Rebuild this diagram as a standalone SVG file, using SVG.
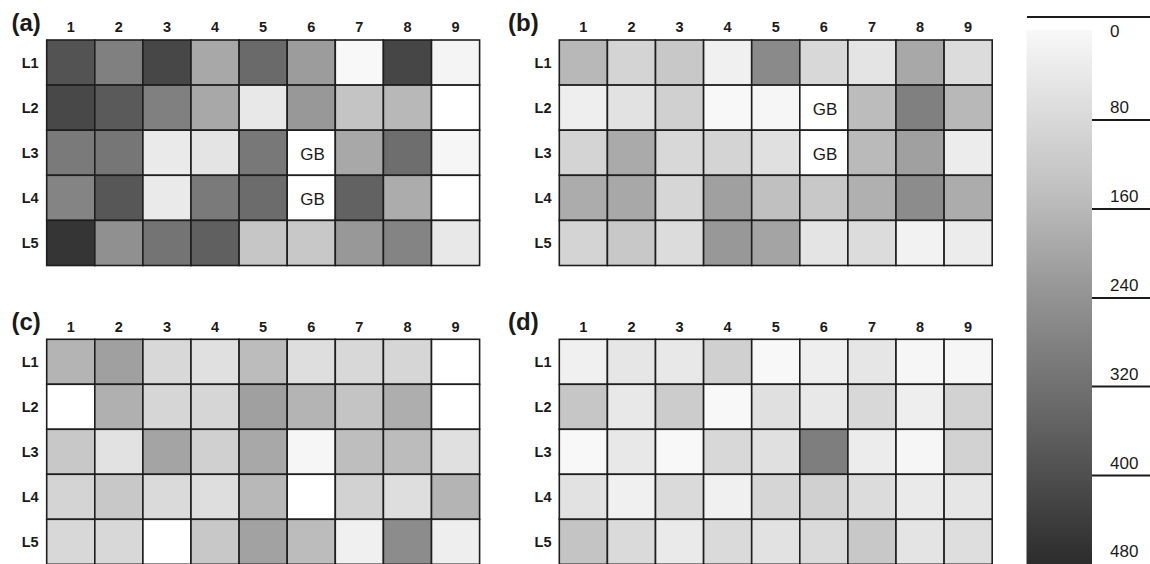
<svg xmlns="http://www.w3.org/2000/svg" width="1150" height="564" viewBox="0 0 1150 564">
<defs>
<linearGradient id="gbar" x1="0" y1="0" x2="0" y2="1">
<stop offset="0" stop-color="#f8f8f8"/>
<stop offset="0.3" stop-color="#c0c0c0"/>
<stop offset="0.5" stop-color="#939393"/>
<stop offset="0.75" stop-color="#606060"/>
<stop offset="1" stop-color="#2c2c2c"/>
</linearGradient>
<style>
rect.c{stroke:#1e1e1e;stroke-width:1.6}
text{font-family:"Liberation Sans",Arial,sans-serif;fill:#1a1a1a}
.col{font-size:14.5px;font-weight:bold;text-anchor:middle}
.row{font-size:14.5px;font-weight:bold;text-anchor:middle}
.let{font-size:24px;font-weight:bold}
.gb{font-size:17px;text-anchor:middle}
.tk{font-size:17px}
.ln{stroke:#1a1a1a;stroke-width:2}
</style>
</defs>
<rect width="1150" height="564" fill="#ffffff"/>

<g id="panel-a" transform="translate(46.7,40)">
<text class="let" x="-35.2" y="-9">(a)</text>
<g class="cols">
<text class="col" x="24.05" y="-7.7">1</text><text class="col" x="72.15" y="-7.7">2</text><text class="col" x="120.25" y="-7.7">3</text><text class="col" x="168.35" y="-7.7">4</text><text class="col" x="216.45" y="-7.7">5</text><text class="col" x="264.55" y="-7.7">6</text><text class="col" x="312.65" y="-7.7">7</text><text class="col" x="360.75" y="-7.7">8</text><text class="col" x="408.85" y="-7.7">9</text>
</g>
<text class="row" x="-16.5" y="28.05">L1</text><text class="row" x="-16.5" y="73.15">L2</text><text class="row" x="-16.5" y="118.25">L3</text><text class="row" x="-16.5" y="163.35">L4</text><text class="row" x="-16.5" y="208.45">L5</text>
<rect class="c" x="0" y="0" width="48.1" height="45.1" fill="#535353"/><rect class="c" x="48.1" y="0" width="48.1" height="45.1" fill="#808080"/><rect class="c" x="96.2" y="0" width="48.1" height="45.1" fill="#474747"/><rect class="c" x="144.3" y="0" width="48.1" height="45.1" fill="#a8a8a8"/><rect class="c" x="192.4" y="0" width="48.1" height="45.1" fill="#6a6a6a"/><rect class="c" x="240.5" y="0" width="48.1" height="45.1" fill="#9c9c9c"/><rect class="c" x="288.6" y="0" width="48.1" height="45.1" fill="#f8f8f8"/><rect class="c" x="336.7" y="0" width="48.1" height="45.1" fill="#464646"/><rect class="c" x="384.8" y="0" width="48.1" height="45.1" fill="#f4f4f4"/>
<rect class="c" x="0" y="45.1" width="48.1" height="45.1" fill="#484848"/><rect class="c" x="48.1" y="45.1" width="48.1" height="45.1" fill="#5a5a5a"/><rect class="c" x="96.2" y="45.1" width="48.1" height="45.1" fill="#808080"/><rect class="c" x="144.3" y="45.1" width="48.1" height="45.1" fill="#a8a8a8"/><rect class="c" x="192.4" y="45.1" width="48.1" height="45.1" fill="#e8e8e8"/><rect class="c" x="240.5" y="45.1" width="48.1" height="45.1" fill="#989898"/><rect class="c" x="288.6" y="45.1" width="48.1" height="45.1" fill="#c4c4c4"/><rect class="c" x="336.7" y="45.1" width="48.1" height="45.1" fill="#b8b8b8"/><rect class="c" x="384.8" y="45.1" width="48.1" height="45.1" fill="#ffffff"/>
<rect class="c" x="0" y="90.2" width="48.1" height="45.1" fill="#7a7a7a"/><rect class="c" x="48.1" y="90.2" width="48.1" height="45.1" fill="#767676"/><rect class="c" x="96.2" y="90.2" width="48.1" height="45.1" fill="#eaeaea"/><rect class="c" x="144.3" y="90.2" width="48.1" height="45.1" fill="#e4e4e4"/><rect class="c" x="192.4" y="90.2" width="48.1" height="45.1" fill="#787878"/><rect class="c" x="240.5" y="90.2" width="48.1" height="45.1" fill="#ffffff"/><rect class="c" x="288.6" y="90.2" width="48.1" height="45.1" fill="#a8a8a8"/><rect class="c" x="336.7" y="90.2" width="48.1" height="45.1" fill="#6e6e6e"/><rect class="c" x="384.8" y="90.2" width="48.1" height="45.1" fill="#f6f6f6"/>
<rect class="c" x="0" y="135.3" width="48.1" height="45.1" fill="#848484"/><rect class="c" x="48.1" y="135.3" width="48.1" height="45.1" fill="#575757"/><rect class="c" x="96.2" y="135.3" width="48.1" height="45.1" fill="#eaeaea"/><rect class="c" x="144.3" y="135.3" width="48.1" height="45.1" fill="#7a7a7a"/><rect class="c" x="192.4" y="135.3" width="48.1" height="45.1" fill="#6c6c6c"/><rect class="c" x="240.5" y="135.3" width="48.1" height="45.1" fill="#ffffff"/><rect class="c" x="288.6" y="135.3" width="48.1" height="45.1" fill="#626262"/><rect class="c" x="336.7" y="135.3" width="48.1" height="45.1" fill="#acacac"/><rect class="c" x="384.8" y="135.3" width="48.1" height="45.1" fill="#ffffff"/>
<rect class="c" x="0" y="180.4" width="48.1" height="45.1" fill="#353535"/><rect class="c" x="48.1" y="180.4" width="48.1" height="45.1" fill="#909090"/><rect class="c" x="96.2" y="180.4" width="48.1" height="45.1" fill="#747474"/><rect class="c" x="144.3" y="180.4" width="48.1" height="45.1" fill="#606060"/><rect class="c" x="192.4" y="180.4" width="48.1" height="45.1" fill="#c6c6c6"/><rect class="c" x="240.5" y="180.4" width="48.1" height="45.1" fill="#c8c8c8"/><rect class="c" x="288.6" y="180.4" width="48.1" height="45.1" fill="#989898"/><rect class="c" x="336.7" y="180.4" width="48.1" height="45.1" fill="#848484"/><rect class="c" x="384.8" y="180.4" width="48.1" height="45.1" fill="#e8e8e8"/>
<text class="gb" x="265.8" y="119.7">GB</text><text class="gb" x="265.8" y="164.8">GB</text>
</g>

<g id="panel-b" transform="translate(559.3,40)">
<text class="let" x="-51.3" y="-9">(b)</text>
<g class="cols">
<text class="col" x="24.05" y="-7.7">1</text><text class="col" x="72.15" y="-7.7">2</text><text class="col" x="120.25" y="-7.7">3</text><text class="col" x="168.35" y="-7.7">4</text><text class="col" x="216.45" y="-7.7">5</text><text class="col" x="264.55" y="-7.7">6</text><text class="col" x="312.65" y="-7.7">7</text><text class="col" x="360.75" y="-7.7">8</text><text class="col" x="408.85" y="-7.7">9</text>
</g>
<text class="row" x="-16.3" y="28.05">L1</text><text class="row" x="-16.3" y="73.15">L2</text><text class="row" x="-16.3" y="118.25">L3</text><text class="row" x="-16.3" y="163.35">L4</text><text class="row" x="-16.3" y="208.45">L5</text>
<rect class="c" x="0" y="0" width="48.1" height="45.1" fill="#b8b8b8"/><rect class="c" x="48.1" y="0" width="48.1" height="45.1" fill="#d4d4d4"/><rect class="c" x="96.2" y="0" width="48.1" height="45.1" fill="#c8c8c8"/><rect class="c" x="144.3" y="0" width="48.1" height="45.1" fill="#f0f0f0"/><rect class="c" x="192.4" y="0" width="48.1" height="45.1" fill="#8a8a8a"/><rect class="c" x="240.5" y="0" width="48.1" height="45.1" fill="#d8d8d8"/><rect class="c" x="288.6" y="0" width="48.1" height="45.1" fill="#e4e4e4"/><rect class="c" x="336.7" y="0" width="48.1" height="45.1" fill="#a8a8a8"/><rect class="c" x="384.8" y="0" width="48.1" height="45.1" fill="#dcdcdc"/>
<rect class="c" x="0" y="45.1" width="48.1" height="45.1" fill="#eeeeee"/><rect class="c" x="48.1" y="45.1" width="48.1" height="45.1" fill="#e2e2e2"/><rect class="c" x="96.2" y="45.1" width="48.1" height="45.1" fill="#d0d0d0"/><rect class="c" x="144.3" y="45.1" width="48.1" height="45.1" fill="#f8f8f8"/><rect class="c" x="192.4" y="45.1" width="48.1" height="45.1" fill="#f6f6f6"/><rect class="c" x="240.5" y="45.1" width="48.1" height="45.1" fill="#ffffff"/><rect class="c" x="288.6" y="45.1" width="48.1" height="45.1" fill="#bcbcbc"/><rect class="c" x="336.7" y="45.1" width="48.1" height="45.1" fill="#808080"/><rect class="c" x="384.8" y="45.1" width="48.1" height="45.1" fill="#b8b8b8"/>
<rect class="c" x="0" y="90.2" width="48.1" height="45.1" fill="#d4d4d4"/><rect class="c" x="48.1" y="90.2" width="48.1" height="45.1" fill="#aaaaaa"/><rect class="c" x="96.2" y="90.2" width="48.1" height="45.1" fill="#d8d8d8"/><rect class="c" x="144.3" y="90.2" width="48.1" height="45.1" fill="#d4d4d4"/><rect class="c" x="192.4" y="90.2" width="48.1" height="45.1" fill="#e0e0e0"/><rect class="c" x="240.5" y="90.2" width="48.1" height="45.1" fill="#ffffff"/><rect class="c" x="288.6" y="90.2" width="48.1" height="45.1" fill="#bababa"/><rect class="c" x="336.7" y="90.2" width="48.1" height="45.1" fill="#a0a0a0"/><rect class="c" x="384.8" y="90.2" width="48.1" height="45.1" fill="#ececec"/>
<rect class="c" x="0" y="135.3" width="48.1" height="45.1" fill="#acacac"/><rect class="c" x="48.1" y="135.3" width="48.1" height="45.1" fill="#a8a8a8"/><rect class="c" x="96.2" y="135.3" width="48.1" height="45.1" fill="#d6d6d6"/><rect class="c" x="144.3" y="135.3" width="48.1" height="45.1" fill="#a0a0a0"/><rect class="c" x="192.4" y="135.3" width="48.1" height="45.1" fill="#c0c0c0"/><rect class="c" x="240.5" y="135.3" width="48.1" height="45.1" fill="#c8c8c8"/><rect class="c" x="288.6" y="135.3" width="48.1" height="45.1" fill="#b0b0b0"/><rect class="c" x="336.7" y="135.3" width="48.1" height="45.1" fill="#8c8c8c"/><rect class="c" x="384.8" y="135.3" width="48.1" height="45.1" fill="#acacac"/>
<rect class="c" x="0" y="180.4" width="48.1" height="45.1" fill="#d4d4d4"/><rect class="c" x="48.1" y="180.4" width="48.1" height="45.1" fill="#c8c8c8"/><rect class="c" x="96.2" y="180.4" width="48.1" height="45.1" fill="#dcdcdc"/><rect class="c" x="144.3" y="180.4" width="48.1" height="45.1" fill="#989898"/><rect class="c" x="192.4" y="180.4" width="48.1" height="45.1" fill="#a4a4a4"/><rect class="c" x="240.5" y="180.4" width="48.1" height="45.1" fill="#e4e4e4"/><rect class="c" x="288.6" y="180.4" width="48.1" height="45.1" fill="#dcdcdc"/><rect class="c" x="336.7" y="180.4" width="48.1" height="45.1" fill="#f2f2f2"/><rect class="c" x="384.8" y="180.4" width="48.1" height="45.1" fill="#ececec"/>
<text class="gb" x="265.8" y="74.6">GB</text><text class="gb" x="265.8" y="119.7">GB</text>
</g>

<g id="panel-c" transform="translate(46.7,339.3)">
<text class="let" x="-35.2" y="-9">(c)</text>
<g class="cols">
<text class="col" x="24.05" y="-7.7">1</text><text class="col" x="72.15" y="-7.7">2</text><text class="col" x="120.25" y="-7.7">3</text><text class="col" x="168.35" y="-7.7">4</text><text class="col" x="216.45" y="-7.7">5</text><text class="col" x="264.55" y="-7.7">6</text><text class="col" x="312.65" y="-7.7">7</text><text class="col" x="360.75" y="-7.7">8</text><text class="col" x="408.85" y="-7.7">9</text>
</g>
<text class="row" x="-16.5" y="28">L1</text><text class="row" x="-16.5" y="73">L2</text><text class="row" x="-16.5" y="118">L3</text><text class="row" x="-16.5" y="163">L4</text><text class="row" x="-16.5" y="208">L5</text>
<rect class="c" x="0" y="0" width="48.1" height="45" fill="#b4b4b4"/><rect class="c" x="48.1" y="0" width="48.1" height="45" fill="#a0a0a0"/><rect class="c" x="96.2" y="0" width="48.1" height="45" fill="#d8d8d8"/><rect class="c" x="144.3" y="0" width="48.1" height="45" fill="#e0e0e0"/><rect class="c" x="192.4" y="0" width="48.1" height="45" fill="#bcbcbc"/><rect class="c" x="240.5" y="0" width="48.1" height="45" fill="#dedede"/><rect class="c" x="288.6" y="0" width="48.1" height="45" fill="#d8d8d8"/><rect class="c" x="336.7" y="0" width="48.1" height="45" fill="#d6d6d6"/><rect class="c" x="384.8" y="0" width="48.1" height="45" fill="#ffffff"/>
<rect class="c" x="0" y="45" width="48.1" height="45" fill="#ffffff"/><rect class="c" x="48.1" y="45" width="48.1" height="45" fill="#b0b0b0"/><rect class="c" x="96.2" y="45" width="48.1" height="45" fill="#d6d6d6"/><rect class="c" x="144.3" y="45" width="48.1" height="45" fill="#d6d6d6"/><rect class="c" x="192.4" y="45" width="48.1" height="45" fill="#a0a0a0"/><rect class="c" x="240.5" y="45" width="48.1" height="45" fill="#b4b4b4"/><rect class="c" x="288.6" y="45" width="48.1" height="45" fill="#c4c4c4"/><rect class="c" x="336.7" y="45" width="48.1" height="45" fill="#aeaeae"/><rect class="c" x="384.8" y="45" width="48.1" height="45" fill="#ffffff"/>
<rect class="c" x="0" y="90" width="48.1" height="45" fill="#c8c8c8"/><rect class="c" x="48.1" y="90" width="48.1" height="45" fill="#e2e2e2"/><rect class="c" x="96.2" y="90" width="48.1" height="45" fill="#a4a4a4"/><rect class="c" x="144.3" y="90" width="48.1" height="45" fill="#d0d0d0"/><rect class="c" x="192.4" y="90" width="48.1" height="45" fill="#a8a8a8"/><rect class="c" x="240.5" y="90" width="48.1" height="45" fill="#f6f6f6"/><rect class="c" x="288.6" y="90" width="48.1" height="45" fill="#bebebe"/><rect class="c" x="336.7" y="90" width="48.1" height="45" fill="#bcbcbc"/><rect class="c" x="384.8" y="90" width="48.1" height="45" fill="#e0e0e0"/>
<rect class="c" x="0" y="135" width="48.1" height="45" fill="#d4d4d4"/><rect class="c" x="48.1" y="135" width="48.1" height="45" fill="#c8c8c8"/><rect class="c" x="96.2" y="135" width="48.1" height="45" fill="#dadada"/><rect class="c" x="144.3" y="135" width="48.1" height="45" fill="#dedede"/><rect class="c" x="192.4" y="135" width="48.1" height="45" fill="#b8b8b8"/><rect class="c" x="240.5" y="135" width="48.1" height="45" fill="#ffffff"/><rect class="c" x="288.6" y="135" width="48.1" height="45" fill="#d2d2d2"/><rect class="c" x="336.7" y="135" width="48.1" height="45" fill="#dedede"/><rect class="c" x="384.8" y="135" width="48.1" height="45" fill="#b4b4b4"/>
<rect class="c" x="0" y="180" width="48.1" height="45" fill="#d8d8d8"/><rect class="c" x="48.1" y="180" width="48.1" height="45" fill="#d8d8d8"/><rect class="c" x="96.2" y="180" width="48.1" height="45" fill="#ffffff"/><rect class="c" x="144.3" y="180" width="48.1" height="45" fill="#c8c8c8"/><rect class="c" x="192.4" y="180" width="48.1" height="45" fill="#a2a2a2"/><rect class="c" x="240.5" y="180" width="48.1" height="45" fill="#bcbcbc"/><rect class="c" x="288.6" y="180" width="48.1" height="45" fill="#f0f0f0"/><rect class="c" x="336.7" y="180" width="48.1" height="45" fill="#8c8c8c"/><rect class="c" x="384.8" y="180" width="48.1" height="45" fill="#eeeeee"/>
</g>

<g id="panel-d" transform="translate(559.3,339.3)">
<text class="let" x="-51.3" y="-9">(d)</text>
<g class="cols">
<text class="col" x="24.05" y="-7.7">1</text><text class="col" x="72.15" y="-7.7">2</text><text class="col" x="120.25" y="-7.7">3</text><text class="col" x="168.35" y="-7.7">4</text><text class="col" x="216.45" y="-7.7">5</text><text class="col" x="264.55" y="-7.7">6</text><text class="col" x="312.65" y="-7.7">7</text><text class="col" x="360.75" y="-7.7">8</text><text class="col" x="408.85" y="-7.7">9</text>
</g>
<text class="row" x="-16.3" y="28">L1</text><text class="row" x="-16.3" y="73">L2</text><text class="row" x="-16.3" y="118">L3</text><text class="row" x="-16.3" y="163">L4</text><text class="row" x="-16.3" y="208">L5</text>
<rect class="c" x="0" y="0" width="48.1" height="45" fill="#f0f0f0"/><rect class="c" x="48.1" y="0" width="48.1" height="45" fill="#e6e6e6"/><rect class="c" x="96.2" y="0" width="48.1" height="45" fill="#e8e8e8"/><rect class="c" x="144.3" y="0" width="48.1" height="45" fill="#d0d0d0"/><rect class="c" x="192.4" y="0" width="48.1" height="45" fill="#f8f8f8"/><rect class="c" x="240.5" y="0" width="48.1" height="45" fill="#eeeeee"/><rect class="c" x="288.6" y="0" width="48.1" height="45" fill="#e6e6e6"/><rect class="c" x="336.7" y="0" width="48.1" height="45" fill="#f6f6f6"/><rect class="c" x="384.8" y="0" width="48.1" height="45" fill="#f6f6f6"/>
<rect class="c" x="0" y="45" width="48.1" height="45" fill="#c6c6c6"/><rect class="c" x="48.1" y="45" width="48.1" height="45" fill="#e8e8e8"/><rect class="c" x="96.2" y="45" width="48.1" height="45" fill="#cccccc"/><rect class="c" x="144.3" y="45" width="48.1" height="45" fill="#f8f8f8"/><rect class="c" x="192.4" y="45" width="48.1" height="45" fill="#e0e0e0"/><rect class="c" x="240.5" y="45" width="48.1" height="45" fill="#e8e8e8"/><rect class="c" x="288.6" y="45" width="48.1" height="45" fill="#d8d8d8"/><rect class="c" x="336.7" y="45" width="48.1" height="45" fill="#eeeeee"/><rect class="c" x="384.8" y="45" width="48.1" height="45" fill="#d2d2d2"/>
<rect class="c" x="0" y="90" width="48.1" height="45" fill="#f8f8f8"/><rect class="c" x="48.1" y="90" width="48.1" height="45" fill="#e8e8e8"/><rect class="c" x="96.2" y="90" width="48.1" height="45" fill="#f8f8f8"/><rect class="c" x="144.3" y="90" width="48.1" height="45" fill="#d8d8d8"/><rect class="c" x="192.4" y="90" width="48.1" height="45" fill="#e0e0e0"/><rect class="c" x="240.5" y="90" width="48.1" height="45" fill="#7e7e7e"/><rect class="c" x="288.6" y="90" width="48.1" height="45" fill="#ececec"/><rect class="c" x="336.7" y="90" width="48.1" height="45" fill="#f6f6f6"/><rect class="c" x="384.8" y="90" width="48.1" height="45" fill="#d2d2d2"/>
<rect class="c" x="0" y="135" width="48.1" height="45" fill="#e2e2e2"/><rect class="c" x="48.1" y="135" width="48.1" height="45" fill="#f0f0f0"/><rect class="c" x="96.2" y="135" width="48.1" height="45" fill="#dadada"/><rect class="c" x="144.3" y="135" width="48.1" height="45" fill="#f0f0f0"/><rect class="c" x="192.4" y="135" width="48.1" height="45" fill="#d6d6d6"/><rect class="c" x="240.5" y="135" width="48.1" height="45" fill="#d0d0d0"/><rect class="c" x="288.6" y="135" width="48.1" height="45" fill="#dcdcdc"/><rect class="c" x="336.7" y="135" width="48.1" height="45" fill="#eaeaea"/><rect class="c" x="384.8" y="135" width="48.1" height="45" fill="#e6e6e6"/>
<rect class="c" x="0" y="180" width="48.1" height="45" fill="#c4c4c4"/><rect class="c" x="48.1" y="180" width="48.1" height="45" fill="#dadada"/><rect class="c" x="96.2" y="180" width="48.1" height="45" fill="#eaeaea"/><rect class="c" x="144.3" y="180" width="48.1" height="45" fill="#dadada"/><rect class="c" x="192.4" y="180" width="48.1" height="45" fill="#e2e2e2"/><rect class="c" x="240.5" y="180" width="48.1" height="45" fill="#dadada"/><rect class="c" x="288.6" y="180" width="48.1" height="45" fill="#c8c8c8"/><rect class="c" x="336.7" y="180" width="48.1" height="45" fill="#e4e4e4"/><rect class="c" x="384.8" y="180" width="48.1" height="45" fill="#dedede"/>
</g>

<g id="colorbar">
<rect x="1026.5" y="30" width="65.5" height="534" fill="url(#gbar)"/>
<line class="ln" x1="1027" y1="17" x2="1150" y2="17"/>
<line class="ln" x1="1092" y1="120" x2="1150" y2="120"/>
<line class="ln" x1="1092" y1="209" x2="1150" y2="209"/>
<line class="ln" x1="1092" y1="298" x2="1150" y2="298"/>
<line class="ln" x1="1092" y1="386.5" x2="1150" y2="386.5"/>
<line class="ln" x1="1092" y1="475.5" x2="1150" y2="475.5"/>
<text class="tk" x="1110" y="37">0</text>
<text class="tk" x="1110" y="113">80</text>
<text class="tk" x="1110" y="202">160</text>
<text class="tk" x="1110" y="291">240</text>
<text class="tk" x="1110" y="379.5">320</text>
<text class="tk" x="1110" y="468.5">400</text>
<text class="tk" x="1110" y="557">480</text>
</g>
</svg>
